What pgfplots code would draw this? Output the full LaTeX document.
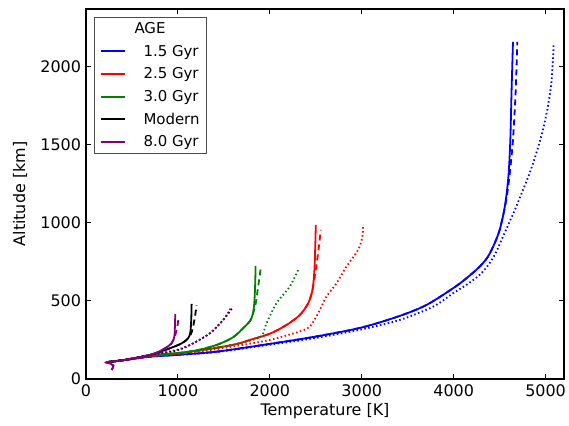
\documentclass[border=0pt]{standalone}
\usepackage{fontspec}
\setmainfont{DejaVu Sans}
\usepackage{pgfplots}
\pgfplotsset{compat=1.18}
\definecolor{mplgreen}{RGB}{0,128,0}
\definecolor{mplpurple}{RGB}{128,0,128}
\tikzset{
    sol/.style={solid, line width=1.8bp, smooth, tension=0.5},
    dsh/.style={dash pattern=on 6bp off 4bp, line width=1.8bp, smooth, tension=0.5},
    dot/.style={dash pattern=on 1.5bp off 2.5bp, line width=1.8bp, smooth, tension=0.5},
}

\begin{document}
\begin{tikzpicture}
\begin{axis}[
    name=ax,
    scale only axis,
    width=478bp, height=370bp,
    xmin=0, xmax=5200, ymin=0, ymax=2370,
    xtick={0,1000,...,5000}, ytick={0,500,...,2000},
    tick align=inside, major tick length=5bp,
    xtick pos=both, ytick pos=both,
    axis line style={line width=1.2bp},
    every tick/.style={black, line width=1bp},
    /pgf/number format/assume math mode=true,
    /pgf/number format/set thousands separator={},
    tick label style={font=\fontsize{16}{19}\selectfont},
    xticklabel style={yshift=-2.5bp},
    yticklabel style={xshift=-1.5bp},
    xlabel={Temperature [K]}, ylabel={Altitude [km]},
    every axis x label/.style={at={(axis description cs:0.5,-0.087)}, anchor=center,
        font=\fontsize{16}{19}\selectfont},
    every axis y label/.style={at={(axis description cs:-0.138,0.5)}, rotate=90, anchor=center,
        font=\fontsize{16}{19}\selectfont},
    legend style={at={(axis description cs:0.017,0.978)}, anchor=north west,
        font=\fontsize{15}{18}\selectfont, draw=black!70, line width=0.8bp,
        row sep=6bp, column sep=16bp, inner xsep=5bp, inner ysep=3bp},
    legend cell align=left,
    legend image code/.code={\draw[#1] plot coordinates {(0bp,0bp) (24bp,0bp)};},
]
% legend
\addlegendimage{empty legend}
\addlegendentry{\hspace*{-9bp}AGE}
\addlegendimage{blue, line width=2bp}
\addlegendentry{1.5 Gyr}
\addlegendimage{red, line width=2bp}
\addlegendentry{2.5 Gyr}
\addlegendimage{mplgreen, line width=2bp}
\addlegendentry{3.0 Gyr}
\addlegendimage{black, line width=2bp}
\addlegendentry{Modern}
\addlegendimage{mplpurple, line width=2bp}
\addlegendentry{8.0 Gyr}

% 1.5 Gyr
\addplot[blue, sol, forget plot] coordinates {(225,108)(400,120)(700,143)(1000,155)(1420,175)(2000,225)(2500,272)(3000,330)(3413,404)(3703,474)(3993,581)(4138,645)(4283,720)(4373,784)(4446,870)(4500,955)(4543,1062)(4572,1169)(4598,1318)(4616,1532)(4630,1853)(4645,2160)};
\addplot[blue, dsh, forget plot] coordinates {(225,108)(400,120)(700,143)(1000,155)(1420,175)(2000,225)(2500,272)(3000,330)(3413,404)(3703,474)(3993,581)(4138,645)(4283,720)(4373,784)(4446,870)(4500,955)(4543,1062)(4578,1169)(4610,1318)(4645,1532)(4675,1853)(4692,2160)};
\addplot[blue, dot, forget plot] coordinates {(225,108)(400,120)(700,143)(1000,155)(1420,173)(2000,220)(2500,263)(3000,318)(3413,378)(3775,463)(3993,549)(4138,603)(4283,667)(4391,742)(4464,816)(4536,912)(4609,1008)(4681,1105)(4754,1212)(4826,1318)(4899,1447)(4971,1596)(5025,1746)(5062,1896)(5080,2045)(5087,2141)};

% 2.5 Gyr
\addplot[red, sol, forget plot] coordinates {(225,108)(400,120)(700,147)(1000,165)(1300,188)(1565,215)(1674,229)(1783,250)(2000,290)(2181,346)(2326,410)(2417,485)(2464,571)(2485,700)(2494,850)(2500,987)};
\addplot[red, dsh, forget plot] coordinates {(225,108)(400,120)(700,147)(1000,165)(1300,188)(1565,215)(1674,229)(1783,250)(2000,290)(2181,346)(2326,410)(2417,485)(2464,571)(2500,700)(2530,830)(2554,955)};
\addplot[red, dot, forget plot] coordinates {(225,108)(400,120)(700,145)(1000,160)(1300,180)(1565,205)(1800,228)(2000,250)(2217,285)(2350,310)(2435,335)(2525,421)(2616,528)(2725,613)(2833,720)(2960,827)(3007,912)(3014,987)};

% 3.0 Gyr
\addplot[mplgreen, sol, forget plot] coordinates {(225,108)(400,120)(700,150)(1058,170)(1239,188)(1420,218)(1565,255)(1638,285)(1746,346)(1783,370)(1812,410)(1830,480)(1840,600)(1845,724)};
\addplot[mplgreen, dsh, forget plot] coordinates {(225,108)(400,120)(700,150)(1058,170)(1239,188)(1420,218)(1565,255)(1638,285)(1746,346)(1783,370)(1812,410)(1845,480)(1870,580)(1892,670)(1902,718)};
\addplot[mplgreen, dot, forget plot] coordinates {(225,108)(400,120)(700,150)(1058,170)(1300,190)(1565,215)(1800,248)(1900,270)(1928,293)(1964,357)(2072,485)(2217,592)(2308,699)};

% Modern
\addplot[black, sol, forget plot] coordinates {(225,108)(400,120)(696,154)(913,197)(1040,228)(1112,261)(1135,300)(1145,380)(1149,481)};
\addplot[black, dsh, forget plot] coordinates {(225,108)(400,120)(696,154)(913,197)(1040,228)(1112,261)(1150,300)(1180,380)(1203,472)};
\addplot[black, dot, forget plot] coordinates {(225,108)(400,120)(696,154)(1000,185)(1167,229)(1348,293)(1493,378)(1601,463)};

% 8.0 Gyr
\addplot[mplpurple, sol, forget plot] coordinates {(280,58)(297,85)(260,100)(225,108)(400,120)(696,154)(840,190)(931,229)(960,270)(967,330)(971,415)};
\addplot[mplpurple, dsh, forget plot] coordinates {(280,58)(297,85)(260,100)(225,108)(400,120)(696,154)(840,190)(931,229)(970,280)(995,340)(1004,378)};
\addplot[mplpurple, dot, forget plot] coordinates {(280,58)(297,85)(260,100)(225,108)(400,120)(696,154)(986,186)(1167,229)(1348,293)(1493,378)(1570,450)};
\end{axis}
\pgfresetboundingbox
\path ([shift={(-86bp,-47bp)}]ax.south west) rectangle ([shift={(5bp,9bp)}]ax.north east);
\end{tikzpicture}
\end{document}
